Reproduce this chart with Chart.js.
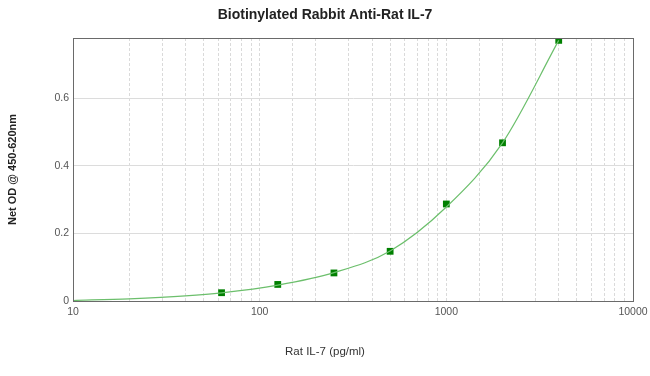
<!DOCTYPE html>
<html>
<head>
<meta charset="utf-8">
<script src="https://cdn.jsdelivr.net/npm/chart.js@4"></script>
<style>
html,body{margin:0;padding:0;background:#fff;}
#wrap{width:650px;height:376px;}
</style>
</head>
<body>
<div id="wrap"><canvas id="c" width="650" height="376"></canvas></div>
<script>
const chartTitle = 'Biotinylated Rabbit Anti-Rat IL-7';
const xTitle = 'Rat IL-7 (pg/ml)';
const yTitle = 'Net OD @ 450-620nm';

// standards (measured points)
const standardConc = [62.5, 125, 250, 500, 1000, 2000, 4000];
const standardOD   = [0.0245, 0.049, 0.083, 0.147, 0.287, 0.468, 0.771];

// fitted curve
const curveConc = [10, 20, 40, 62.5, 125, 250, 500, 1000, 2000, 4000];
const curveOD   = [0.0015, 0.0065, 0.015, 0.024, 0.047, 0.084, 0.148, 0.278, 0.468, 0.771];

const xTickLabels = [10, 100, 1000, 10000];
const yTickLabels = [0, 0.2, 0.4, 0.6];

const FONT = "'Liberation Sans', Arial, sans-serif";

const boxPlugin = {
  id: 'box',
  afterDraw(chart) {
    const a = chart.chartArea, ctx = chart.ctx;
    ctx.save();
    ctx.strokeStyle = '#6a6a6a';
    ctx.lineWidth = 1;
    ctx.setLineDash([]);
    ctx.strokeRect(Math.round(a.left) + 0.5, Math.round(a.top) + 0.5,
      Math.round(a.right - a.left), Math.round(a.bottom - a.top));
    ctx.restore();
  }
};

new Chart(document.getElementById('c'), {
  type: 'scatter',
  data: {
    datasets: [
      {
        label: 'fit',
        data: curveConc.map((x, i) => ({x: x, y: curveOD[i]})),
        showLine: true,
        borderColor: '#6cbf6c',
        borderWidth: 1.2,
        pointRadius: 0,
        cubicInterpolationMode: 'monotone',
        fill: false
      },
      {
        label: 'standards',
        data: standardConc.map((x, i) => ({x: x, y: standardOD[i]})),
        showLine: false,
        pointStyle: 'rect',
        pointRadius: 4.8,
        backgroundColor: '#008000',
        borderColor: '#008000',
        borderWidth: 0
      }
    ]
  },
  options: {
    responsive: false,
    animation: false,
    devicePixelRatio: 1,
    layout: { padding: { left: 0, right: 0, top: 0, bottom: 0 } },
    plugins: {
      legend: { display: false },
      tooltip: { enabled: false },
      title: {
        display: true,
        text: chartTitle,
        color: '#222',
        font: { family: FONT, size: 14, weight: 'bold', lineHeight: 1.2 },
        padding: { top: 7, bottom: 14.2 }
      },
      subtitle: {
        display: true,
        position: 'bottom',
        text: xTitle,
        color: '#333',
        font: { family: FONT, size: 11.5, weight: 'normal', lineHeight: 1.2 },
        padding: { top: 0, bottom: 17 }
      }
    },
    scales: {
      x: {
        type: 'logarithmic',
        min: 10,
        max: 10000,
        afterFit(scale) {
          scale.height = 376 - 301 - 30.8;
          scale.paddingRight = 0;
          scale.paddingLeft = 0;
        },
        grid: {
          color: '#dadada',
          drawTicks: false,
          lineWidth: 1
        },
        border: { display: true, color: '#6a6a6a', dash: [3, 2] },
        ticks: {
          autoSkip: false,
          maxRotation: 0,
          padding: 5,
          color: '#555',
          font: { family: FONT, size: 10.5 },
          callback(v) { return xTickLabels.includes(v) ? String(v) : ''; }
        }
      },
      y: {
        type: 'linear',
        min: 0,
        max: 0.778,
        afterFit(scale) { scale.width = 73; },
        border: { display: true, color: '#6a6a6a' },
        grid: { color: '#dcdcdc', drawTicks: false, lineWidth: 1 },
        title: {
          display: true,
          text: yTitle,
          color: '#222',
          font: { family: FONT, size: 11, weight: 'bold', lineHeight: 1.2 },
          padding: { top: 6, bottom: 0 }
        },
        ticks: {
          stepSize: 0.2,
          includeBounds: false,
          padding: 4,
          color: '#555',
          font: { family: FONT, size: 10.5 },
          callback(v) {
            const r = Math.round(v * 10) / 10;
            return yTickLabels.includes(r) ? String(r) : '';
          }
        }
      },
      yR: {
        type: 'linear',
        position: 'right',
        display: true,
        min: 0,
        max: 1,
        afterFit(scale) { scale.width = 17; },
        grid: { display: false, drawTicks: false },
        border: { display: false },
        ticks: { display: false }
      }
    }
  },
  plugins: [boxPlugin]
});
</script>
</body>
</html>
